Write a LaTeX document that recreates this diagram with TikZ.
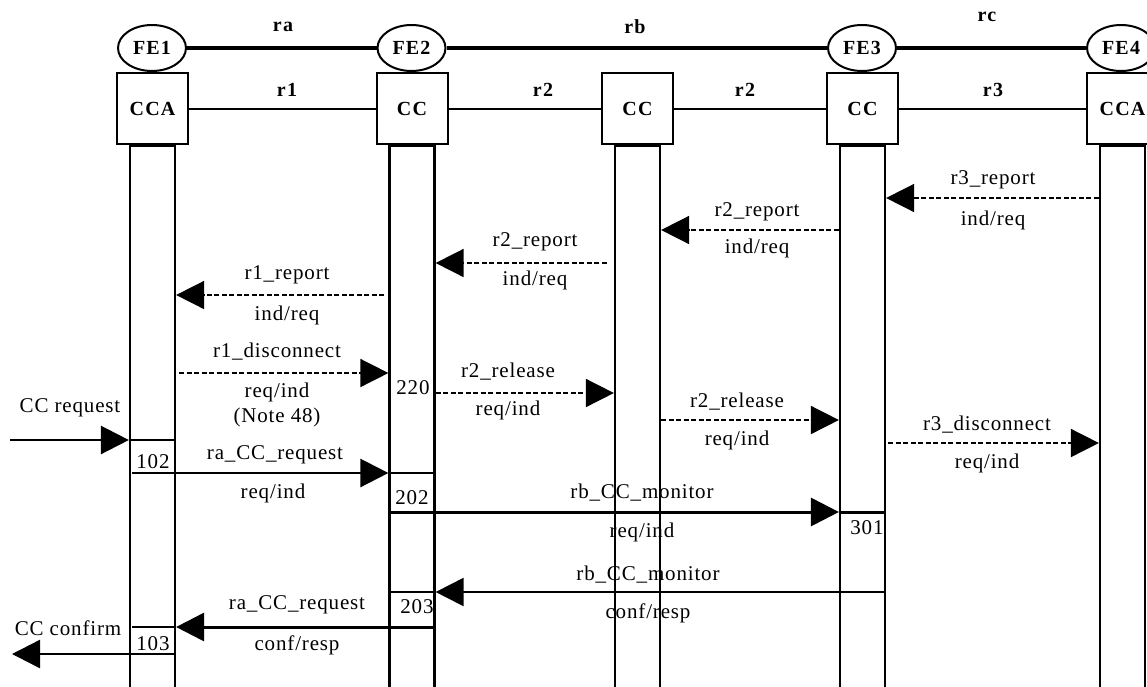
\documentclass[tikz,border=0pt]{standalone}
\usepackage{fontspec}
\setmainfont{Liberation Serif}
\newfontfamily\lblfont{Liberation Serif}[LetterSpace=4]
\newfontfamily\ttlfont{Liberation Serif}[LetterSpace=6]
\usetikzlibrary{arrows.meta,shapes.geometric}
\begin{document}
\begin{tikzpicture}[x=1pt,y=-1pt,
  lbl/.style={font=\lblfont\fontsize{21}{24}\selectfont, inner sep=0pt},
  ttl/.style={font=\ttlfont\bfseries\fontsize{20}{24}\selectfont, inner sep=0pt},
  fe/.style={ellipse, draw, line width=2pt, minimum width=68pt, minimum height=46pt, inner sep=0pt, font=\ttlfont\bfseries\fontsize{20}{24}\selectfont},
  bx/.style={rectangle, draw, line width=2pt, minimum width=71pt, minimum height=71pt, inner sep=0pt, font=\ttlfont\bfseries\fontsize{20}{24}\selectfont},
  col/.style={rectangle, draw, line width=2.2pt, minimum width=45pt, minimum height=560pt, inner sep=0pt, anchor=north},
  link/.style={line width=2pt},
  thk/.style={line width=4.5pt},
  dsh/.style={line width=1.6pt, dash pattern=on 5pt off 2.5pt, -{Triangle[length=28pt,width=28pt]}},
  sol/.style={line width=2.5pt, -{Triangle[length=28pt,width=28pt]}},
  solb/.style={line width=3pt, -{Triangle[length=28pt,width=28pt]}},
  seg/.style={line width=2.5pt},
]
\useasboundingbox (0,0) rectangle (1147,686);
\clip (0,0) rectangle (1147,686);

% functional entities
\node[fe] (fe1) at (152,48) {FE1};
\node[fe] (fe2) at (411.5,48) {FE2};
\node[fe] (fe3) at (862,48) {FE3};
\node[fe] (fe4) at (1121,48) {FE4};
\node[bx] (b1) at (152.5,108.5) {CCA};
\node[bx] (b2) at (412,108.5) {CC};
\node[bx] (b3) at (637.5,108.5) {CC};
\node[bx] (b4) at (862.5,108.5) {CC};
\node[bx] (b5) at (1122.5,108.5) {CCA};

% lifeline columns
\node[col] (c1) at (b1.south) {};
\node[col] (c2) at (b2.south) {};
\node[col] (c3) at (b3.south) {};
\node[col] (c4) at (b4.south) {};
\node[col] (c5) at (b5.south) {};

% relationships
\draw[thk] (fe1) -- (fe2);
\draw[thk] (fe2) -- (fe3);
\draw[thk] (fe3) -- (fe4);
\draw[link] (b1) -- (b2);
\draw[link] (b2) -- (b3);
\draw[link] (b3) -- (b4);
\draw[link] (b4) -- (b5);
\node[ttl] (lra) at (283,27) {ra};
\node[ttl] (lrb) at (635,27) {rb};
\node[ttl] (lrc) at (987,17) {rc};
\node[ttl] (lr1) at (287,90) {r1};
\node[ttl] (lr2a) at (543,90) {r2};
\node[ttl] (lr2b) at (745,90) {r2};
\node[ttl] (lr3) at (993,90) {r3};

% r3_report
\draw[dsh] (c5.west |- 0,198) -- (c4.east |- 0,198);
\node[lbl] (m1a) at (993,180) {r3\_report};
\node[lbl] (m1b) at (993,220) {ind/req};
% r2_report
\draw[dsh] (c4.west |- 0,230) -- (c3.east |- 0,230);
\node[lbl] (m2a) at (757,212) {r2\_report};
\node[lbl] (m2b) at (757,248) {ind/req};
% r2_report
\draw[dsh] ([xshift=-7pt]c3.west |- 0,263) -- (c2.east |- 0,263);
\node[lbl] (m3a) at (535,242) {r2\_report};
\node[lbl] (m3b) at (535,280) {ind/req};
% r1_report
\draw[dsh] ([xshift=-4pt]c2.west |- 0,295) -- (c1.east |- 0,295);
\node[lbl] (m4a) at (287,275) {r1\_report};
\node[lbl] (m4b) at (287,315) {ind/req};
% r1_disconnect
\draw[dsh] ([xshift=3pt]c1.east |- 0,373) -- (c2.west |- 0,373);
\node[lbl] (m5a) at (277,352) {r1\_disconnect};
\node[lbl] (m5b) at (277,392) {req/ind};
\node[lbl] (m5c) at (277,417) {(Note 48)};
% r2_release
\node[lbl] (n220) at (413,388) {220};
\draw[dsh] (c2.east |- 0,393) -- (c3.west |- 0,393);
\node[lbl] (m6a) at (508,372) {r2\_release};
\node[lbl] (m6b) at (508,410) {req/ind};
% r2_release
\draw[dsh] (c3.east |- 0,420) -- (c4.west |- 0,420);
\node[lbl] (m7a) at (737,402) {r2\_release};
\node[lbl] (m7b) at (737,440) {req/ind};
% r3_disconnect
\draw[dsh] ([xshift=2pt]c4.east |- 0,443) -- (c5.west |- 0,443);
\node[lbl] (m8a) at (987,425) {r3\_disconnect};
\node[lbl] (m8b) at (987,463) {req/ind};

% CC request
\coordinate (ccin) at (10,440);
\draw[sol] (ccin) -- (c1.west |- 0,440);
\draw[seg] (c1.west |- 0,440) -- (c1.east |- 0,440);
\node[lbl] (m9) at (70,408) {CC request};
% ra_CC_request
\node[lbl] (n102) at (153,462) {102};
\draw[sol] ([xshift=3pt]c1.west |- 0,473) -- (c2.west |- 0,473);
\draw[seg] (c2.west |- 0,473) -- (c2.east |- 0,473);
\node[lbl] (m10a) at (275,455) {ra\_CC\_request};
\node[lbl] (m10b) at (273,493) {req/ind};
% rb_CC_monitor
\node[lbl] (n202) at (412,498) {202};
\node[lbl] (m11a) at (642,493) {rb\_CC\_monitor};
\node[lbl] (m11b) at (642,532) {req/ind};
\draw[solb] ([xshift=2.5pt]c2.west |- 0,512) -- (c4.west |- 0,512);
\draw[line width=3pt] (c4.west |- 0,512) -- (c4.east |- 0,512);
\node[lbl] (n301) at (867,528) {301};
% rb_CC_monitor back
\node[lbl] (m12a) at (648,575) {rb\_CC\_monitor};
\node[lbl] (m12b) at (648,613) {conf/resp};
\draw[line width=2pt, -{Triangle[length=28pt,width=28pt]}] (c4.east |- 0,592) -- (c2.east |- 0,592);
\draw[line width=2pt] (c2.east |- 0,592) -- ([xshift=2.5pt]c2.west |- 0,592);
\node[lbl] (n203) at (417,607) {203};
% ra_CC_request back
\draw[solb] (c2.east |- 0,627) -- (c1.east |- 0,627);
\draw[seg] (c1.east |- 0,627) -- ([xshift=3pt]c1.west |- 0,627);
\node[lbl] (m13a) at (297,605) {ra\_CC\_request};
\node[lbl] (m13b) at (297,645) {conf/resp};
% CC confirm
\coordinate (ccout) at (12,654);
\draw[sol] (c1.east |- 0,654) -- (ccout);
\node[lbl] (m14) at (68,628) {CC confirm};
\node[lbl] (n103) at (153,644) {103};
\end{tikzpicture}
\end{document}
